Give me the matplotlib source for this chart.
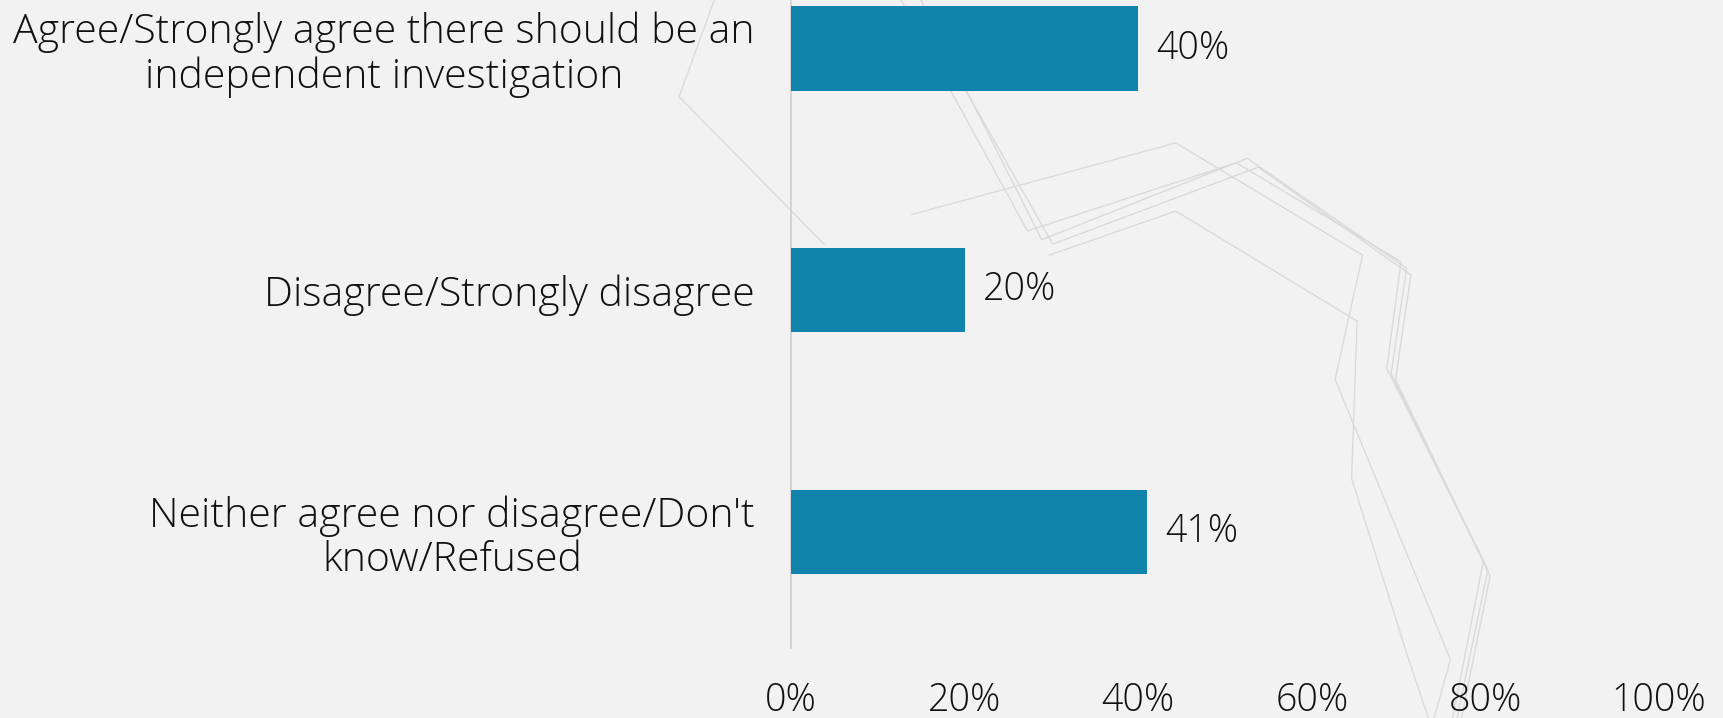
import matplotlib
matplotlib.use("Agg")
import matplotlib.pyplot as plt
from matplotlib.lines import Line2D

# Survey responses
categories = [
    "Agree/Strongly agree there should be an\nindependent investigation",
    "Disagree/Strongly disagree",
    "Neither agree nor disagree/Don't\nknow/Refused",
]
values = [40, 20, 41]
tick_values = [0, 20, 40, 60, 80, 100]
tick_labels = ["0%", "20%", "40%", "60%", "80%", "100%"]

BG = "#f2f2f2"
BAR = "#1084ab"
FONT = ["Open Sans", "DejaVu Sans"]
TXT = "#111111"
FS = 27

plt.rcParams["font.family"] = FONT
plt.rcParams["font.weight"] = "light"

fig = plt.figure(figsize=(17.23, 7.18), dpi=100, facecolor=BG)

# Faint decorative strokes in the slide background (figure fraction, y from top)
W, H = 1568.0, 653.0
strokes = [
    [(650, 0), (618, 88), (750, 222)],
    [(820, 0), (935, 210), (1125, 148), (1275, 238), (1262, 335), (1350, 510), (1322, 653)],
    [(838, 0), (948, 218), (1135, 144), (1280, 244), (1266, 340), (1354, 518), (1326, 653)],
    [(855, 40), (958, 222), (1145, 152), (1284, 250), (1270, 345), (1356, 524), (1330, 653)],
    [(830, 195), (1070, 130), (1240, 232), (1215, 345), (1320, 600), (1305, 653)],
    [(955, 232), (1070, 192), (1235, 292), (1230, 435), (1282, 600), (1300, 653)],
]
for pts in strokes:
    xs = [p[0] / W for p in pts]
    ys = [1 - p[1] / H for p in pts]
    fig.add_artist(Line2D(xs, ys, transform=fig.transFigure, color="#dadada",
                          lw=1.0, zorder=0))

ax = fig.add_axes([791 / 1723, 70 / 718, 868 / 1723, 648 / 718])
ax.set_facecolor("none")

y = list(range(len(categories)))
ax.barh(y, values, height=0.35, color=BAR, zorder=3)

ax.set_xlim(0, 100)
ax.set_ylim(2.48, -0.2)

ax.set_yticks(y)
ax.set_yticklabels(categories, fontsize=29.5, multialignment="center", color=TXT,
                   linespacing=1.1)
ax.set_xticks(tick_values)
ax.set_xticklabels(tick_labels, fontsize=FS, color=TXT)
ax.tick_params(axis="y", length=0, pad=26)
ax.tick_params(axis="x", length=0, pad=24)
for lbl in ax.get_yticklabels():
    lbl.set_y(lbl.get_position()[1])

for s in ["top", "right", "bottom"]:
    ax.spines[s].set_visible(False)
ax.spines["left"].set_color("#cfcfcf")
ax.spines["left"].set_linewidth(1.2)

for yi, v in zip(y, values):
    ax.text(v + 2.1, yi, f"{v}%", va="center", ha="left", fontsize=FS,
            color=TXT, zorder=4)

fig.savefig("out.png", dpi=100, facecolor=BG)
